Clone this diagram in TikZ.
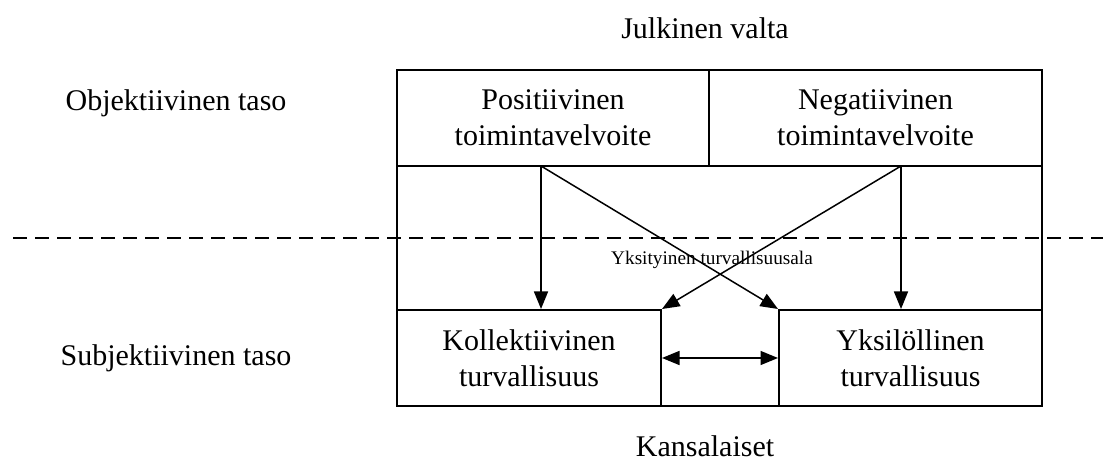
\documentclass[tikz,border=0pt]{standalone}
\usepackage{fontspec}
\setmainfont{Liberation Serif}
\usetikzlibrary{arrows.meta}

\tikzset{
	box/.style={draw, inner sep=0pt, align=center, font=\fontsize{12}{14.4}\selectfont},
	lbl/.style={align=center, font=\fontsize{12}{14.4}\selectfont},
	arr/.style={-{Triangle[length=7pt, width=5.6pt]}, line width=.6pt},
	dblarr/.style={{Triangle[length=7pt, width=5.6pt]}-{Triangle[length=7pt, width=5.6pt]}, line width=.6pt},
	dashline/.style={dash pattern=on 5.6pt off 3.2pt, line width=.8pt}
}

\begin{document}
\begin{tikzpicture}[x=.4pt, y=-.4pt, line width=.8pt]
	\useasboundingbox (0,0) rectangle (1110,470);
	
	\node[lbl] (valta) at (705,28) {Julkinen valta};
	\node[lbl] (obj) at (176,103) {Objektiivinen taso};
	\node[lbl] (subj) at (176,358) {Subjektiivinen taso};
	\node[lbl] (kans) at (705,446) {Kansalaiset};
	
	\node[box, minimum width=258pt, minimum height=134.4pt] (frame) at (719.5,238) {};
	\node[box, minimum width=124.8pt, minimum height=38.4pt] (pos) at (553,118) {Positiivinen\\toimintavelvoite};
	\node[box, minimum width=133.2pt, minimum height=38.4pt] (neg) at (875.5,118) {Negatiivinen\\toimintavelvoite};
	\node[box, minimum width=105.6pt, minimum height=38.4pt] (kol) at (529,358) {Kollektiivinen\\turvallisuus};
	\node[box, minimum width=105.2pt, minimum height=38.4pt] (yks) at (910.5,358) {Yksilöllinen\\turvallisuus};
	
	\node[font=\fontsize{7.7}{9}\selectfont] (ala) at (712,260) {Yksityinen turvallisuusala};
	
	\coordinate (posout) at (541,166);
	\coordinate (negout) at (901,166);
	\draw[arr] (posout) -- (posout |- kol.north);
	\draw[arr] (posout) -- (yks.north west);
	\draw[arr] (negout) -- (negout |- yks.north);
	\draw[arr] (negout) -- (kol.north east);
	\draw[dblarr] (kol) -- (yks);
	
	% raja
	\coordinate (dashl) at (13,238);
	\coordinate (dashr) at (1103,238);
	\draw[dashline] (dashl) -- (dashr);
\end{tikzpicture}
\end{document}
